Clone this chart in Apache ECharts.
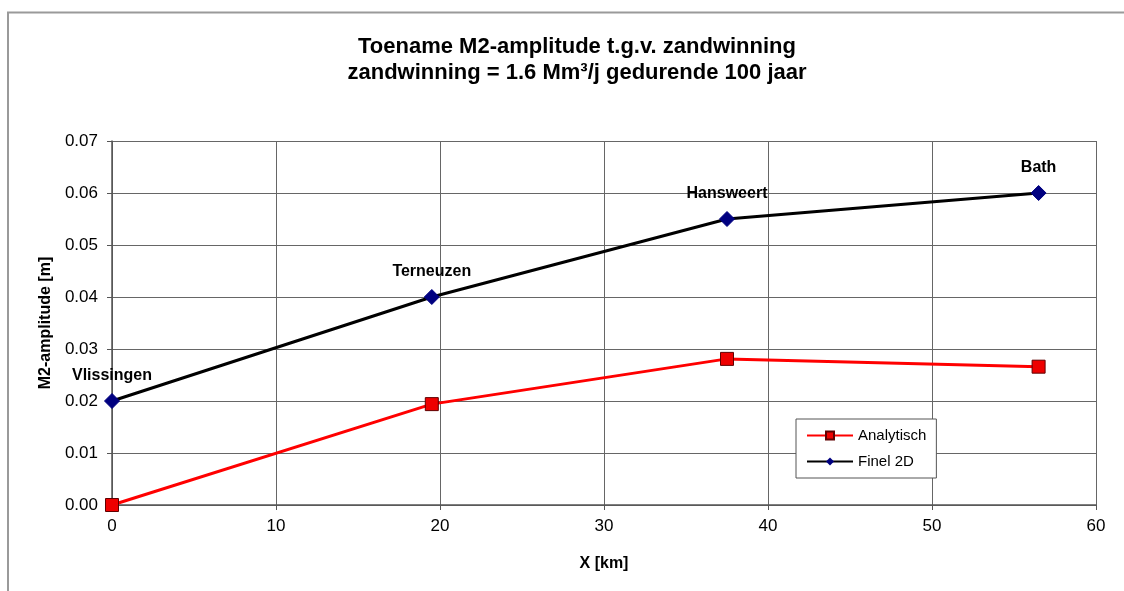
<!DOCTYPE html>
<html><head><meta charset="utf-8">
<script src="https://cdn.jsdelivr.net/npm/echarts@6/dist/echarts.min.js"></script>
<style>html,body{margin:0;padding:0;background:#fff}#c{width:1124px;height:591px}</style>
</head><body><div id="c"></div>
<script>
const xKm = [0, 19.5, 37.5, 56.5];
const stations = ['Vlissingen', 'Terneuzen', 'Hansweert', 'Bath'];
const analytisch = [0.0, 0.0194, 0.0281, 0.0266];
const finel2D = [0.020, 0.040, 0.055, 0.060];
const xTicks = [0, 10, 20, 30, 40, 50, 60];
const yTicks = [0, 0.01, 0.02, 0.03, 0.04, 0.05, 0.06, 0.07];

const font = 'Liberation Sans, Arial, sans-serif';
const chart = echarts.init(document.getElementById('c'), null, {renderer: 'canvas'});
chart.setOption({
  backgroundColor: '#fff',
  animation: false,
  graphic: [{
    type: 'polyline', silent: true,
    shape: {points: [[8, 600], [8, 12.5], [1130, 12.5]]},
    style: {stroke: '#9a9a9a', lineWidth: 2, fill: null}
  }],
  title: {
    text: 'Toename M2-amplitude t.g.v. zandwinning\nzandwinning = 1.6 Mm³/j gedurende 100 jaar',
    left: 572, top: 29, textAlign: 'center',
    textStyle: {fontFamily: font, fontSize: 22, fontWeight: 'bold', color: '#000', lineHeight: 26}
  },
  legend: {
    left: 796, top: 419, orient: 'vertical', itemGap: 11,
    padding: [9, 10, 9, 10],
    backgroundColor: '#fff', borderColor: '#555', borderWidth: 1, borderRadius: 0,
    itemWidth: 46, itemHeight: 10,
    textStyle: {fontFamily: font, fontSize: 15, color: '#000'},
    data: ['Analytisch', 'Finel 2D']
  },
  grid: {left: 112, right: 28, top: 141, bottom: 86},
  xAxis: {
    type: 'value', min: 0, max: 60, interval: 10,
    name: 'X [km]', nameLocation: 'middle', nameGap: 51,
    nameTextStyle: {fontFamily: font, fontSize: 16, fontWeight: 'bold', color: '#000'},
    axisLine: {show: true, lineStyle: {color: '#555', width: 1.5}},
    axisTick: {show: true, length: 5, lineStyle: {color: '#555'}},
    axisLabel: {fontFamily: font, fontSize: 17, color: '#000', margin: 13,
      formatter: v => xTicks.includes(v) ? String(v) : ''},
    splitLine: {show: true, lineStyle: {color: '#666', width: 1}}
  },
  yAxis: {
    type: 'value', min: 0, max: 0.07, interval: 0.01,
    name: 'M2-amplitude [m]', nameLocation: 'middle', nameGap: 56,
    nameTextStyle: {fontFamily: font, fontSize: 16, fontWeight: 'bold', color: '#000'},
    axisLine: {show: true, lineStyle: {color: '#555', width: 1.5}},
    axisTick: {show: true, length: 5, lineStyle: {color: '#555'}},
    axisLabel: {fontFamily: font, fontSize: 17, color: '#000', margin: 14,
      formatter: v => {
        const t = yTicks.find(k => Math.abs(k - v) < 1e-9);
        return t === undefined ? '' : t.toFixed(2);
      }},
    splitLine: {show: true, lineStyle: {color: '#666', width: 1}}
  },
  series: [
    {
      name: 'Analytisch', type: 'line',
      data: xKm.map((x, i) => [x, analytisch[i]]),
      lineStyle: {color: '#ff0000', width: 3},
      itemStyle: {color: '#ee0000', borderColor: '#600000', borderWidth: 1},
      symbol: 'rect', symbolSize: 13, z: 3
    },
    {
      name: 'Finel 2D', type: 'line',
      data: xKm.map((x, i) => ({
        value: [x, finel2D[i]],
        label: {
          show: true, formatter: stations[i],
          position: 'top', distance: 9,
          fontFamily: font, fontSize: 16, fontWeight: 'bold', color: '#000'
        }
      })),
      lineStyle: {color: '#000', width: 3},
      itemStyle: {color: '#000080', borderColor: '#000080'},
      symbol: 'diamond', symbolSize: 15, z: 4
    }
  ]
});
</script></body></html>
